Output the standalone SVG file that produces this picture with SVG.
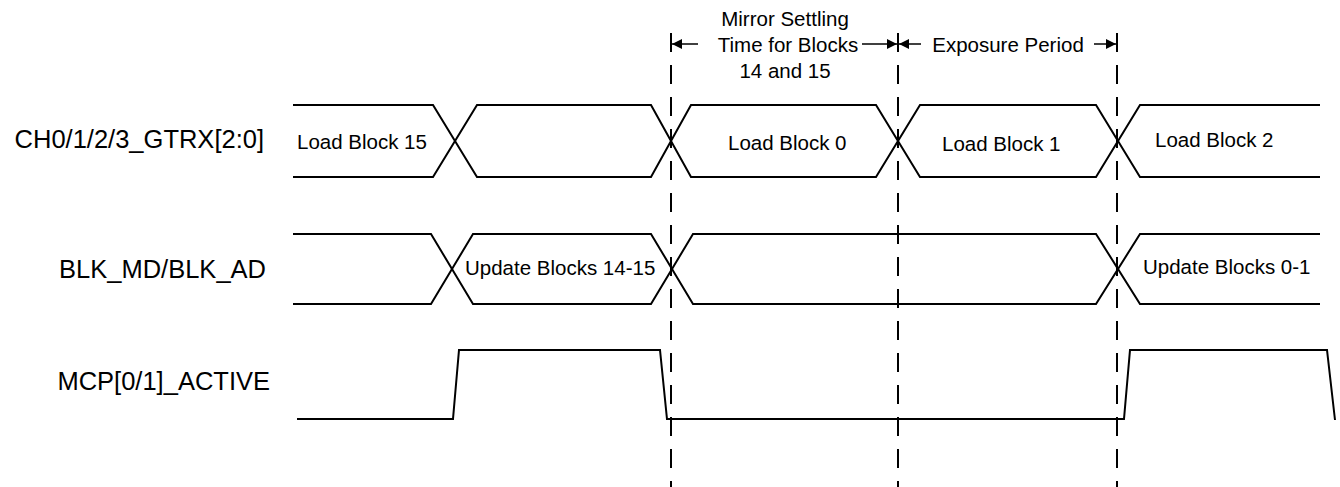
<svg xmlns="http://www.w3.org/2000/svg" width="1340" height="487" viewBox="0 0 1340 487">
<style>
.sig{fill:none;stroke:#000;stroke-width:2;stroke-linejoin:miter}
.dash{fill:none;stroke:#000;stroke-width:2;stroke-dasharray:19 13}
.dim{fill:none;stroke:#000;stroke-width:1.5}
.lbl{font-family:"Liberation Sans",Arial,sans-serif;font-size:25.5px;fill:#000}
.txt{font-family:"Liberation Sans",Arial,sans-serif;font-size:20.5px;fill:#000}
</style>
<defs>
<marker id="ah" viewBox="0 0 10 10" refX="10" refY="5" markerUnits="userSpaceOnUse" markerWidth="11" markerHeight="10" orient="auto">
<path d="M0,0 L10,5 L0,10 z" fill="#000"/>
</marker>
</defs>
<rect width="1340" height="487" fill="#fff"/>
<g id="label-gtrx"><text class="lbl" x="264" y="148" text-anchor="end">CH0/1/2/3_GTRX[2:0]</text></g>
<g id="label-blk"><text class="lbl" x="266" y="278" text-anchor="end">BLK_MD/BLK_AD</text></g>
<g id="label-mcp"><text class="lbl" x="270" y="390" text-anchor="end">MCP[0/1]_ACTIVE</text></g>
<g id="sig-gtrx">
<path class="sig" d="M293,105 H433 L477,177 H651 L691,105 H876 L920,177 H1096 L1140,105 H1320"/>
<path class="sig" d="M293,177 H433 L477,105 H651 L691,177 H876 L920,105 H1096 L1140,177 H1320"/>
<text class="txt" x="297" y="149">Load Block 15</text>
<text class="txt" x="728" y="150">Load Block 0</text>
<text class="txt" x="942" y="151">Load Block 1</text>
<text class="txt" x="1155" y="147">Load Block 2</text>
</g>
<g id="sig-blk">
<path class="sig" d="M293,234 H431 L473,304 H651 L693,234 H1096 L1140,304 H1320"/>
<path class="sig" d="M293,304 H431 L473,234 H651 L693,304 H1096 L1140,234 H1320"/>
<text class="txt" x="465" y="275">Update Blocks 14-15</text>
<text class="txt" x="1143" y="274">Update Blocks 0-1</text>
</g>
<g id="sig-mcp">
<path class="sig" d="M297,419 H453 L459,350 H660 L667,419 H1124 L1130,350 H1327 L1335,420"/>
</g>
<g id="annotation">
<text class="txt" x="785" y="26" text-anchor="middle">Mirror Settling</text>
<text class="txt" x="788" y="52" text-anchor="middle">Time for Blocks</text>
<text class="txt" x="785" y="78" text-anchor="middle">14 and 15</text>
<text class="txt" x="1008" y="52" text-anchor="middle">Exposure Period</text>
</g>
<g id="connectors">
<line class="dash" x1="671" y1="33" x2="671" y2="487"/>
<line class="dash" x1="898" y1="33" x2="898" y2="487"/>
<line class="dash" x1="1117" y1="33" x2="1117" y2="487"/>
<line class="dim" x1="698" y1="44" x2="672" y2="44" marker-end="url(#ah)"/>
<line class="dim" x1="862" y1="44" x2="897" y2="44" marker-end="url(#ah)"/>
<line class="dim" x1="921" y1="44" x2="899" y2="44" marker-end="url(#ah)"/>
<line class="dim" x1="1094" y1="44" x2="1116" y2="44" marker-end="url(#ah)"/>
</g>
</svg>
